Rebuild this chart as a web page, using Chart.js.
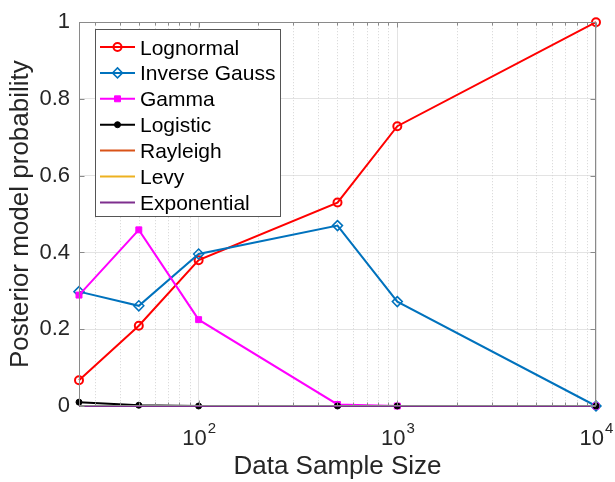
<!DOCTYPE html>
<html><head><meta charset="utf-8">
<script src="https://cdn.jsdelivr.net/npm/chart.js@4.4.0/dist/chart.umd.min.js"></script>
<style>html,body{margin:0;padding:0;background:#fff;overflow:hidden;}</style>
</head><body>
<canvas id="c" width="615" height="482" style="display:block;width:615px;height:482px"></canvas>
<script>
// ---- data ----
const sampleSizes  = [25, 50, 100, 500, 1000, 10000];
const lognormal    = [0.067, 0.209, 0.380, 0.530, 0.729, 1.000];
const inverseGauss = [0.298, 0.261, 0.396, 0.470, 0.272, 0.000];
const gamma        = [0.289, 0.459, 0.225, 0.004, 0.000, 0.000];
const logistic     = [0.010, 0.002, 0.000, 0.000, 0.000, 0.000];
const rayleigh     = [0, 0, 0, 0, 0, 0];
const levy         = [0, 0, 0, 0, 0, 0];
const exponential  = [0, 0, 0, 0, 0, 0];

const seriesNames  = ['Lognormal', 'Inverse Gauss', 'Gamma', 'Logistic', 'Rayleigh', 'Levy', 'Exponential'];
const seriesValues = [lognormal, inverseGauss, gamma, logistic, rayleigh, levy, exponential];

const xTickValues    = [100, 1000, 10000];
const xTickBases     = ['10', '10', '10'];
const xTickExponents = ['2', '3', '4'];
const xMinorValues   = [30, 40, 50, 60, 70, 80, 90,
                        200, 300, 400, 500, 600, 700, 800, 900,
                        2000, 3000, 4000, 5000, 6000, 7000, 8000, 9000];
const yTickValues = [0, 0.2, 0.4, 0.6, 0.8, 1];
const yTickLabels = ['0', '0.2', '0.4', '0.6', '0.8', '1'];

// ---- styles ----
const FONT = "'Liberation Sans', Arial, Helvetica, sans-serif";
const styles = [
  {color: '#ff0000', marker: 'circle',  r: 4,   bw: 2,   fill: 'rgba(0,0,0,0)'},
  {color: '#0072bd', marker: 'rectRot', r: 5,   bw: 1.5, fill: 'rgba(0,0,0,0)'},
  {color: '#ff00ff', marker: 'rect',    r: 4.2, bw: 1,   fill: '#ff00ff'},
  {color: '#000000', marker: 'circle',  r: 3,   bw: 1,   fill: '#000000'},
  {color: '#d95319', marker: null},
  {color: '#edb120', marker: null},
  {color: '#7e2f8e', marker: null}
];

const datasets = seriesNames.map((name, i) => {
  const s = styles[i];
  return {
    label: name,
    data: sampleSizes.map((x, j) => ({x: x, y: seriesValues[i][j]})),
    borderColor: s.color,
    backgroundColor: s.color,
    borderWidth: 2,
    pointStyle: s.marker || 'circle',
    pointRadius: s.marker ? s.r : 0,
    pointHoverRadius: s.marker ? s.r : 0,
    pointBorderWidth: s.marker ? s.bw : 0,
    pointBorderColor: s.color,
    pointBackgroundColor: s.marker ? s.fill : s.color,
    tension: 0,
    fill: false,
    clip: false,
    order: -i
  };
});

function drawMarker(ctx, s, x, y) {
  if (!s.marker) return;
  ctx.save();
  ctx.strokeStyle = s.color; ctx.fillStyle = s.fill; ctx.lineWidth = s.bw;
  ctx.beginPath();
  if (s.marker === 'circle') {
    ctx.arc(x, y, s.r, 0, Math.PI * 2);
  } else if (s.marker === 'rectRot') {
    ctx.moveTo(x, y - s.r); ctx.lineTo(x + s.r, y); ctx.lineTo(x, y + s.r); ctx.lineTo(x - s.r, y); ctx.closePath();
  } else if (s.marker === 'rect') {
    const h = s.r * Math.SQRT1_2;
    ctx.rect(x - h, y - h, 2 * h, 2 * h);
  }
  ctx.fill(); ctx.stroke();
  ctx.restore();
}

const matlabAxes = {
  id: 'matlabAxes',
  beforeDatasetsDraw(chart) {
    const {ctx, chartArea: a, scales: {x}} = chart;
    ctx.save();
    ctx.strokeStyle = '#d4d4d4'; ctx.lineWidth = 1; ctx.setLineDash([1, 2]);
    xMinorValues.forEach(v => {
      const px = Math.round(x.getPixelForValue(v)) + 0.5;
      ctx.beginPath(); ctx.moveTo(px, a.top); ctx.lineTo(px, a.bottom); ctx.stroke();
    });
    ctx.restore();
  },
  afterDatasetsDraw(chart) {
    const {ctx, chartArea: a, scales: {x, y}} = chart;
    ctx.save();
    ctx.strokeStyle = '#8a8a8a'; ctx.lineWidth = 1;
    const L = Math.round(a.left) + 0.5, R = Math.round(a.right) - 0.5;
    const T = Math.round(a.top) + 0.5, B = Math.round(a.bottom) - 0.5;
    ctx.strokeRect(L, T, R - L, B - T);
    ctx.beginPath();
    xTickValues.forEach(v => {
      const px = Math.round(x.getPixelForValue(v)) + 0.5;
      ctx.moveTo(px, B); ctx.lineTo(px, B - 5);
      ctx.moveTo(px, T); ctx.lineTo(px, T + 5);
    });
    xMinorValues.forEach(v => {
      const px = Math.round(x.getPixelForValue(v)) + 0.5;
      ctx.moveTo(px, B); ctx.lineTo(px, B - 3);
      ctx.moveTo(px, T); ctx.lineTo(px, T + 3);
    });
    yTickValues.forEach(v => {
      const py = Math.round(y.getPixelForValue(v)) + 0.5;
      ctx.moveTo(L, py); ctx.lineTo(L + 5, py);
      ctx.moveTo(R, py); ctx.lineTo(R - 5, py);
    });
    ctx.stroke();
    ctx.fillStyle = '#262626';
    xTickValues.forEach((v, i) => {
      const px = x.getPixelForValue(v);
      ctx.font = '22px ' + FONT;
      const wb = ctx.measureText(xTickBases[i]).width;
      ctx.font = '15px ' + FONT;
      const we = ctx.measureText(xTickExponents[i]).width;
      const start = px - (wb + we) / 2;
      ctx.textBaseline = 'alphabetic'; ctx.textAlign = 'left';
      ctx.font = '22px ' + FONT;
      ctx.fillText(xTickBases[i], start, a.bottom + 39);
      ctx.font = '15px ' + FONT;
      ctx.fillText(xTickExponents[i], start + wb + 1, a.bottom + 27);
    });
    ctx.restore();
  },
  afterDraw(chart) {
    const {ctx} = chart;
    const bx = 95.5, by = 29.5, bw = 185, bh = 187;
    ctx.save();
    ctx.fillStyle = '#ffffff'; ctx.fillRect(bx, by, bw, bh);
    ctx.strokeStyle = '#555555'; ctx.lineWidth = 1; ctx.strokeRect(bx, by, bw, bh);
    ctx.font = '21px ' + FONT; ctx.textAlign = 'left'; ctx.textBaseline = 'alphabetic';
    seriesNames.forEach((name, i) => {
      const s = styles[i];
      const cy = 47 + i * 25.9;
      ctx.strokeStyle = s.color; ctx.lineWidth = 2;
      ctx.beginPath(); ctx.moveTo(100, cy); ctx.lineTo(135, cy); ctx.stroke();
      drawMarker(ctx, s, 117.5, cy);
      ctx.fillStyle = '#000000';
      ctx.fillText(name, 140, cy + 7.5);
    });
    ctx.restore();
  }
};

new Chart(document.getElementById('c'), {
  type: 'line',
  data: {datasets: datasets},
  options: {
    responsive: false,
    devicePixelRatio: 1,
    animation: false,
    events: [],
    layout: {padding: {top: 19, right: 19, left: 0, bottom: 0}},
    plugins: {legend: {display: false}, tooltip: {enabled: false}},
    scales: {
      x: {
        type: 'logarithmic',
        min: 25, max: 10000,
        afterBuildTicks: s => { s.ticks = xTickValues.map(v => ({value: v})); },
        afterFit: s => { s.height = 76; },
        ticks: {display: false},
        grid: {color: '#e3e3e3', lineWidth: 1, drawTicks: false},
        border: {display: false},
        title: {display: true, text: 'Data Sample Size', color: '#262626',
                font: {family: FONT, size: 26, lineHeight: 1.2}, padding: {top: 0, bottom: 0}}
      },
      y: {
        type: 'linear',
        min: 0, max: 1,
        afterBuildTicks: s => { s.ticks = yTickValues.map(v => ({value: v})); },
        afterFit: s => { s.width = 79; },
        ticks: {padding: 9, color: '#262626', font: {family: FONT, size: 22},
                callback: (v, i) => yTickLabels[i]},
        grid: {color: '#e3e3e3', lineWidth: 1, drawTicks: false},
        border: {display: false},
        title: {display: true, text: 'Posterior model probability', color: '#262626',
                font: {family: FONT, size: 26, lineHeight: 1.2}, padding: {top: 5, bottom: 0}}
      }
    }
  },
  plugins: [matlabAxes]
});
</script>
</body></html>
